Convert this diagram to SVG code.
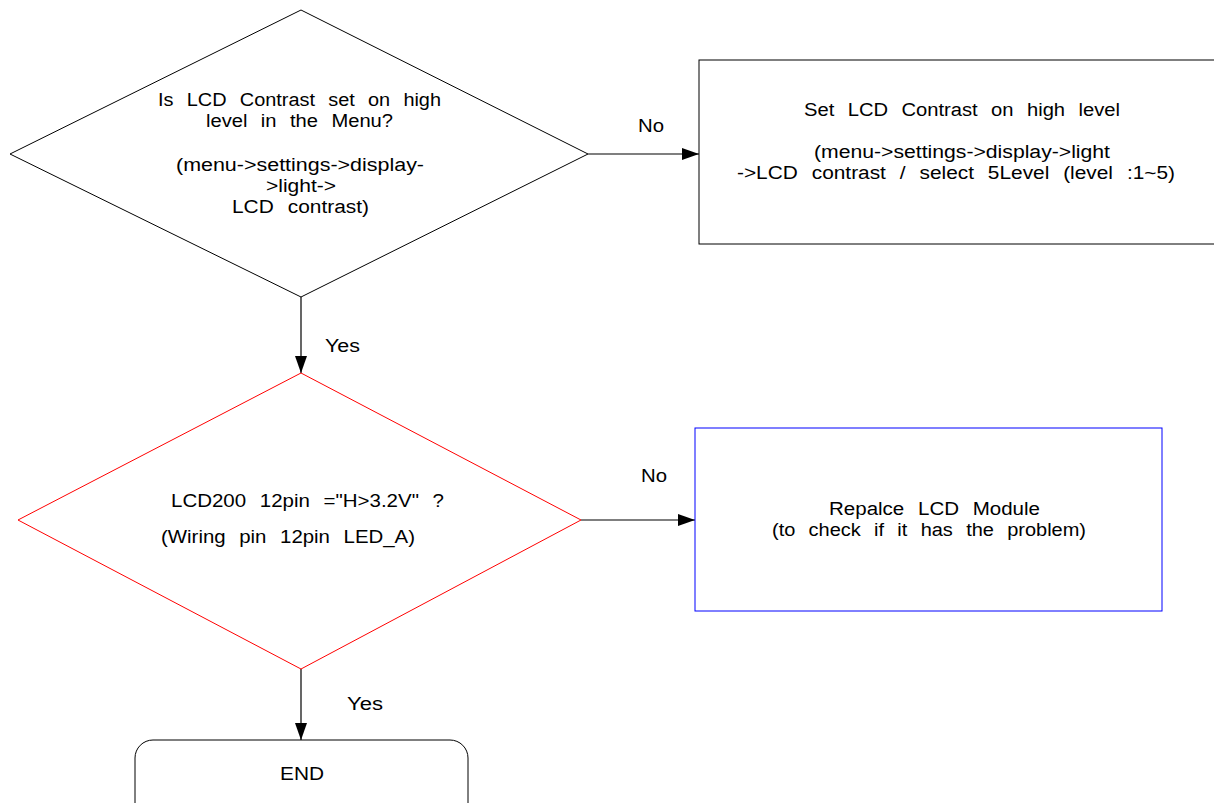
<svg xmlns="http://www.w3.org/2000/svg" width="1214" height="803" viewBox="0 0 1214 803">
<style>
text{font-family:"Liberation Sans",Arial,sans-serif;font-size:18px;fill:#000;word-spacing:7px}
.sh{fill:#fff;stroke:#000;stroke-width:1}
.red{stroke:#ff0000}
.blue{stroke:#0000ff}
.ln{stroke:#000;stroke-width:1.2;fill:none}
</style>
<defs>
<marker id="ah" markerWidth="17" markerHeight="12" refX="17" refY="6" orient="auto" markerUnits="userSpaceOnUse">
<path d="M0,0 L17,6 L0,12 Z" fill="#000"/>
</marker>
</defs>
<rect width="1214" height="803" fill="#fff"/>
<g id="connectors">
<line class="ln" x1="588" y1="154" x2="699" y2="154" marker-end="url(#ah)"/>
<line class="ln" x1="301" y1="297" x2="301" y2="373" marker-end="url(#ah)"/>
<line class="ln" x1="581" y1="520" x2="695" y2="520" marker-end="url(#ah)"/>
<line class="ln" x1="301" y1="669" x2="301" y2="740" marker-end="url(#ah)"/>
<text x="638" y="132" textLength="26" lengthAdjust="spacingAndGlyphs">No</text>
<text x="325" y="352" textLength="35" lengthAdjust="spacingAndGlyphs">Yes</text>
<text x="641" y="482" textLength="26" lengthAdjust="spacingAndGlyphs">No</text>
<text x="347" y="710" textLength="36" lengthAdjust="spacingAndGlyphs">Yes</text>
</g>
<g id="decision1">
<polygon class="sh" points="301,10 588,154 301,297 10,154"/>
<text x="158" y="106" textLength="283" lengthAdjust="spacingAndGlyphs">Is LCD Contrast set on high</text>
<text x="206" y="127" textLength="187" lengthAdjust="spacingAndGlyphs">level in the Menu?</text>
<text x="176" y="171" textLength="248" lengthAdjust="spacingAndGlyphs">(menu-&gt;settings-&gt;display-</text>
<text x="266" y="192" textLength="70" lengthAdjust="spacingAndGlyphs">&gt;light-&gt;</text>
<text x="232" y="213" textLength="137" lengthAdjust="spacingAndGlyphs">LCD contrast)</text>
</g>
<g id="process1">
<rect class="sh" x="699" y="60" width="540" height="184"/>
<text x="804" y="116" textLength="316" lengthAdjust="spacingAndGlyphs">Set LCD Contrast on high level</text>
<text x="814" y="158" textLength="296" lengthAdjust="spacingAndGlyphs">(menu-&gt;settings-&gt;display-&gt;light</text>
<text x="737" y="179" textLength="438" lengthAdjust="spacingAndGlyphs">-&gt;LCD contrast / select 5Level (level :1~5)</text>
</g>
<g id="decision2">
<polygon class="sh red" points="301,373 581,520 301,669 18,520"/>
<text x="171" y="507" textLength="273" lengthAdjust="spacingAndGlyphs">LCD200 12pin ="H&gt;3.2V" ?</text>
<text x="161" y="543" textLength="254" lengthAdjust="spacingAndGlyphs">(Wiring pin 12pin LED_A)</text>
</g>
<g id="process2">
<rect class="sh blue" x="695" y="428" width="467" height="183"/>
<text x="829" y="515" textLength="211" lengthAdjust="spacingAndGlyphs">Repalce LCD Module</text>
<text x="772" y="536" textLength="314" lengthAdjust="spacingAndGlyphs">(to check if it has the problem)</text>
</g>
<g id="end">
<rect class="sh" x="135" y="740" width="333" height="90" rx="18" ry="18"/>
<text x="280" y="780" textLength="44" lengthAdjust="spacingAndGlyphs">END</text>
</g>
</svg>
